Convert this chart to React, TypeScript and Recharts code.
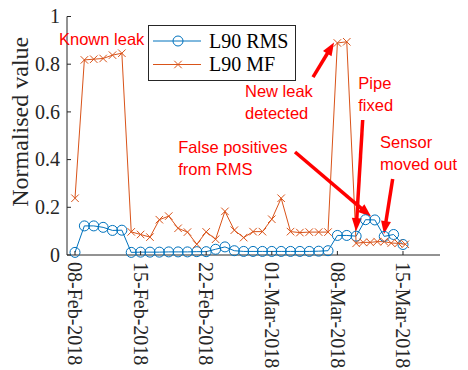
import React from 'react';
import { LineChart, Line, XAxis, YAxis, ReferenceLine, ReferenceDot, Legend } from 'recharts';

// Day offsets counted from 08-Feb-2018
const tickDays = [0, 7, 14, 21, 28, 35];
const tickLabels = ['08-Feb-2018', '15-Feb-2018', '22-Feb-2018', '01-Mar-2018', '08-Mar-2018', '15-Mar-2018'];
const yTicks = [0, 0.2, 0.4, 0.6, 0.8, 1];
const seriesOrder = ['L90 RMS', 'L90 MF'];

const rmsDays = [0, 1, 2, 3, 4, 5, 6, 7, 8, 9, 10, 11, 12, 13, 14, 15, 16, 17, 18, 19, 20, 21, 22, 23, 24, 25, 26, 27, 28, 29, 30, 31, 32, 33, 34, 35];
const rmsValues = [0.011, 0.122, 0.122, 0.116, 0.103, 0.104, 0.011, 0.012, 0.012, 0.012, 0.013, 0.013, 0.013, 0.014, 0.014, 0.024, 0.034, 0.018, 0.015, 0.015, 0.015, 0.015, 0.015, 0.015, 0.015, 0.015, 0.016, 0.018, 0.082, 0.082, 0.079, 0.148, 0.147, 0.078, 0.086, 0.044];

const mfDays = [0, 1, 2, 3, 4, 5, 6, 7, 8, 9, 10, 11, 12, 13, 14, 15, 16, 17, 18, 19, 20, 21, 22, 23, 24, 25, 26, 27, 28, 29, 30, 30.75, 31.5, 32.25, 33, 33.75, 34.5, 35.25];
const mfValues = [0.238, 0.818, 0.821, 0.824, 0.838, 0.846, 0.097, 0.086, 0.075, 0.148, 0.163, 0.112, 0.096, 0.045, 0.097, 0.066, 0.183, 0.104, 0.073, 0.098, 0.098, 0.15, 0.238, 0.098, 0.094, 0.096, 0.096, 0.096, 0.889, 0.894, 0.049, 0.053, 0.053, 0.056, 0.056, 0.05, 0.049, 0.045];

const rmsData = rmsDays.map((d, i) => ({ d, v: rmsValues[i] }));
const mfData = mfDays.map((d, i) => ({ d, v: mfValues[i] }));

const X_DOMAIN: [number, number] = [-0.854, 38.95];
const AXIS = '#262626';
const BLUE = '#0072BD';
const ORANGE = '#D95319';
const SERIF = '"Liberation Serif", "Times New Roman", serif';
const SANS = '"Liberation Sans", Arial, sans-serif';

// Annotation texts (first-line baseline, left edge) in data units
const notes = [
  { x: -1.707, y: 0.8805, lines: ['Known leak'] },
  { x: 18.14, y: 0.6637, lines: ['New leak', 'detected'] },
  { x: 30.23, y: 0.6948, lines: ['Pipe', 'fixed'] },
  { x: 11.02, y: 0.4264, lines: ['False positives', 'from RMS'] },
  { x: 32.55, y: 0.4499, lines: ['Sensor', 'moved out'] },
];

// Arrows: tail -> head in data units
const arrows = [
  { from: { x: 25.4, y: 0.746 }, to: { x: 27.64, y: 0.891 } },
  { from: { x: 30.7, y: 0.566 }, to: { x: 29.99, y: 0.1 } },
  { from: { x: 23.48, y: 0.432 }, to: { x: 31.59, y: 0.161 } },
  { from: { x: 33.9, y: 0.319 }, to: { x: 32.97, y: 0.088 } },
];

const BottomTick = (props: any) => {
  const { x, y, payload } = props;
  const label = tickLabels[tickDays.indexOf(payload.value)];
  return (
    <g>
      <line x1={x} x2={x} y1={y} y2={y - 4} stroke={AXIS} />
      <text
        transform={`translate(${x},${y + 7}) rotate(90)`}
        x={0}
        y={0}
        dy="0.34em"
        fontFamily={SERIF}
        fontSize={20}
        fill={AXIS}
      >
        {label}
      </text>
    </g>
  );
};

const TopTick = (props: any) => {
  const { x, y } = props;
  return <line x1={x} x2={x} y1={y} y2={y + 4} stroke={AXIS} />;
};

const LeftTick = (props: any) => {
  const { x, y, payload } = props;
  return (
    <g>
      <line x1={x} x2={x + 4} y1={y} y2={y} stroke={AXIS} />
      <text x={x - 7} y={y} dy="0.34em" textAnchor="end" fontFamily={SERIF} fontSize={20} fill={AXIS}>
        {String(payload.value)}
      </text>
    </g>
  );
};

const RightTick = (props: any) => {
  const { x, y } = props;
  return <line x1={x} x2={x - 4} y1={y} y2={y} stroke={AXIS} />;
};

const XMark = (props: any) => {
  const { cx, cy } = props;
  if (cx == null || cy == null) return null;
  const s = 3.75;
  return (
    <g stroke={ORANGE} strokeWidth={1}>
      <line x1={cx - s} y1={cy - s} x2={cx + s} y2={cy + s} />
      <line x1={cx - s} y1={cy + s} x2={cx + s} y2={cy - s} />
    </g>
  );
};

const ArrowShape = (props: any) => {
  const { x1, y1, x2, y2 } = props;
  const dx = x2 - x1;
  const dy = y2 - y1;
  const len = Math.hypot(dx, dy) || 1;
  const ux = dx / len;
  const uy = dy / len;
  const hl = 13;
  const hw = 5;
  const bx = x2 - ux * hl;
  const by = y2 - uy * hl;
  return (
    <g>
      <line x1={x1} y1={y1} x2={bx + ux} y2={by + uy} stroke="#FF0000" strokeWidth={3.5} />
      <polygon
        points={`${x2},${y2} ${bx - uy * hw},${by + ux * hw} ${bx + uy * hw},${by - ux * hw}`}
        fill="#FF0000"
      />
    </g>
  );
};

const makeNote = (lines: string[]) => (props: any) => {
  const { cx, cy } = props;
  return (
    <text x={cx} y={cy} fontFamily={SANS} fontSize={16.5} fill="#FF0000">
      {lines.map((t, i) => (
        <tspan key={i} x={cx} y={cy + i * 22}>
          {t}
        </tspan>
      ))}
    </text>
  );
};

const LegendBox = (props: any) => {
  const payload = [...(props.payload || [])].sort(
    (a: any, b: any) => seriesOrder.indexOf(a.value) - seriesOrder.indexOf(b.value)
  );
  return (
    <svg width={148} height={56} style={{ display: 'block' }}>
      <rect x={0.5} y={0.5} width={147} height={55} fill="#fff" stroke={AXIS} />
      {payload.map((p: any, i: number) => {
        const cy = 16 + i * 23.5;
        const isRms = p.value === seriesOrder[0];
        return (
          <g key={i}>
            <line x1={5} x2={53} y1={cy} y2={cy} stroke={p.color} />
            {isRms ? (
              <circle cx={30} cy={cy} r={5} fill="none" stroke={p.color} />
            ) : (
              <g stroke={p.color}>
                <line x1={26.25} y1={cy - 3.75} x2={33.75} y2={cy + 3.75} />
                <line x1={26.25} y1={cy + 3.75} x2={33.75} y2={cy - 3.75} />
              </g>
            )}
            <text x={61} y={cy} dy="0.33em" fontFamily={SERIF} fontSize={20} fill="#000">
              {p.value}
            </text>
          </g>
        );
      })}
    </svg>
  );
};

export default function App() {
  return (
    <div style={{ position: 'absolute', left: 0, top: 0, width: 468, height: 370, background: '#fff' }}>
      <LineChart width={468} height={370} margin={{ top: 16.5, right: 28, bottom: 0, left: 0 }}>
        <XAxis
          xAxisId="b"
          dataKey="d"
          type="number"
          domain={X_DOMAIN}
          ticks={tickDays}
          interval={0}
          allowDataOverflow
          height={115}
          tickSize={0}
          tickMargin={0}
          tickLine={false}
          axisLine={{ stroke: AXIS }}
          tick={<BottomTick />}
        />
        <XAxis
          xAxisId="t"
          orientation="top"
          dataKey="d"
          type="number"
          domain={X_DOMAIN}
          ticks={tickDays}
          interval={0}
          allowDataOverflow
          height={0}
          tickSize={0}
          tickMargin={0}
          tickLine={false}
          axisLine={{ stroke: AXIS }}
          tick={<TopTick />}
        />
        <YAxis
          yAxisId="l"
          type="number"
          domain={[0, 1]}
          ticks={yTicks}
          interval={0}
          width={67}
          tickSize={0}
          tickMargin={0}
          tickLine={false}
          axisLine={{ stroke: AXIS }}
          tick={<LeftTick />}
          label={{
            content: (lp: any) => {
              const vb = lp.viewBox || {};
              const cx = 20;
              const cy = (vb.y ?? 16.5) + (vb.height ?? 238.5) / 2 - 14;
              return (
                <text
                  transform={`translate(${cx},${cy}) rotate(-90)`}
                  textAnchor="middle"
                  fontFamily={SERIF}
                  fontSize={24}
                  fill={AXIS}
                  dy="0.34em"
                >
                  Normalised value
                </text>
              );
            },
          }}
        />
        <YAxis
          yAxisId="r"
          orientation="right"
          type="number"
          domain={[0, 1]}
          ticks={yTicks}
          interval={0}
          width={0}
          tickSize={0}
          tickMargin={0}
          tickLine={false}
          axisLine={{ stroke: AXIS }}
          tick={<RightTick />}
        />
        <Legend
          layout="vertical"
          align="center"
          verticalAlign="middle"
          wrapperStyle={{ left: 148, top: 25, width: 148, height: 56 }}
          content={<LegendBox />}
        />
        <Line
          xAxisId="b"
          yAxisId="l"
          name="L90 RMS"
          data={rmsData}
          dataKey="v"
          stroke={BLUE}
          strokeWidth={1}
          dot={{ r: 5, fill: 'none', stroke: BLUE, strokeWidth: 1 }}
          activeDot={false}
          isAnimationActive={false}
        />
        <Line
          xAxisId="b"
          yAxisId="l"
          name="L90 MF"
          data={mfData}
          dataKey="v"
          stroke={ORANGE}
          strokeWidth={1}
          dot={<XMark />}
          activeDot={false}
          isAnimationActive={false}
        />
        {arrows.map((a, i) => (
          <ReferenceLine
            key={`a${i}`}
            xAxisId="b"
            yAxisId="l"
            segment={[a.from, a.to]}
            ifOverflow="visible"
            shape={ArrowShape}
          />
        ))}
        {notes.map((n, i) => (
          <ReferenceDot
            key={`n${i}`}
            xAxisId="b"
            yAxisId="l"
            x={n.x}
            y={n.y}
            r={1}
            ifOverflow="visible"
            shape={makeNote(n.lines)}
          />
        ))}
      </LineChart>
    </div>
  );
}
